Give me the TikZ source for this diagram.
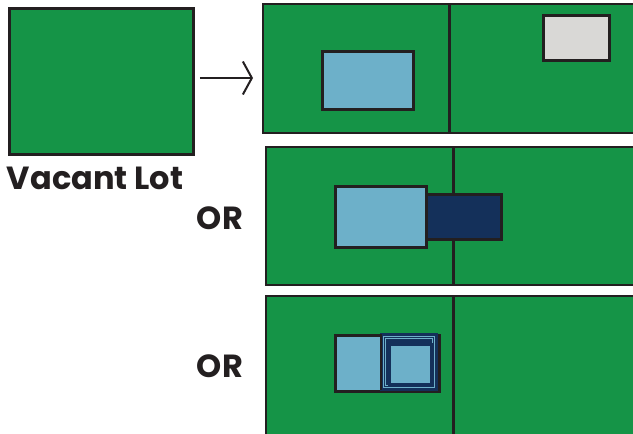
\documentclass[tikz,border=0pt]{standalone}
\usepackage{fontspec}
\setmainfont{Poppins}
\usetikzlibrary{arrows.meta}
\definecolor{lotgreen}{HTML}{159447}
\definecolor{lightblue}{HTML}{6DB0C9}
\definecolor{navy}{HTML}{14305A}
\definecolor{lightgray}{HTML}{D9D8D6}
\definecolor{edge}{HTML}{231F20}
\tikzset{
  lot/.style={draw=edge, line width=2.8pt, fill=lotgreen},
  house/.style={draw=edge, line width=2.6pt, fill=lightblue},
  adu/.style={draw=edge, line width=2.6pt, fill=navy},
  shed/.style={draw=edge, line width=2.6pt, fill=lightgray},
  divider/.style={draw=edge, line width=3pt},
  label/.style={font=\bfseries\fontsize{32}{36}\selectfont, text=edge, inner sep=0pt},
  ring/.style={draw=lightblue, line width=0.7pt}
}
\begin{document}
\begin{tikzpicture}[x=1pt,y=-1pt]
\useasboundingbox (0,0) rectangle (633,434);
% vacant lot
\node[lot, minimum width=184pt, minimum height=146pt, anchor=north west, inner sep=0pt] (vacant) at (8,7) {};
\node[label, anchor=base] (vlabel) at (95,189) {Vacant Lot};
% panel 1
\draw[lot] (263,4) rectangle (635,133);
\coordinate (p1t) at (449,4); \coordinate (p1b) at (449,133);
\draw[divider] (p1t) -- (p1b);
\node[house, minimum width=91pt, minimum height=58pt, anchor=north west, inner sep=0pt] (h1) at (321,50) {};
\node[shed, minimum width=66pt, minimum height=45pt, anchor=north west, inner sep=0pt] (s1) at (542,14) {};
\coordinate (p1w) at (263,78);
\draw[edge, line width=2pt, -{Straight Barb[length=9pt,width=33pt,line width=2pt]}] ([xshift=5pt]vacant.east |- p1w) coordinate (astart) -- ([xshift=-10pt]p1w);
% panel 2
\draw[lot] (266,147) rectangle (635,285);
\coordinate (p2t) at (453,147); \coordinate (p2b) at (453,285);
\draw[divider] (p2t) -- (p2b);
\node[adu, minimum width=75pt, minimum height=45pt, anchor=north west, inner sep=0pt] (a2) at (425,193) {};
\node[house, minimum width=91pt, minimum height=61pt, anchor=north west, inner sep=0pt] (h2) at (334,185) {};
\node[label] (or1) at (220,218) {OR};
% panel 3
\draw[lot] (266,296) rectangle (635,436);
\coordinate (p3t) at (453,296); \coordinate (p3b) at (453,434);
\draw[divider] (p3t) -- (p3b);
\node[house, minimum width=104pt, minimum height=56pt, anchor=north west, inner sep=0pt] (h3) at (334,334) {};
\draw[line width=2.6pt, draw=navy, fill=navy] (381,334) rectangle (437,390);
\draw[ring] (383.5,336.5) rectangle (434.5,387.5);
\draw[ring] (385.5,338.5) rectangle (432.5,385.5);
\node[draw=navy, line width=3pt, fill=lightblue, minimum width=42pt, minimum height=40pt, anchor=north west, inner sep=0pt] (j3) at (388,342.5) {};
\draw[edge, line width=1.2pt] (381,334) -- (381,390);
\node[label] (or2) at (220,366) {OR};
\end{tikzpicture}
\end{document}
